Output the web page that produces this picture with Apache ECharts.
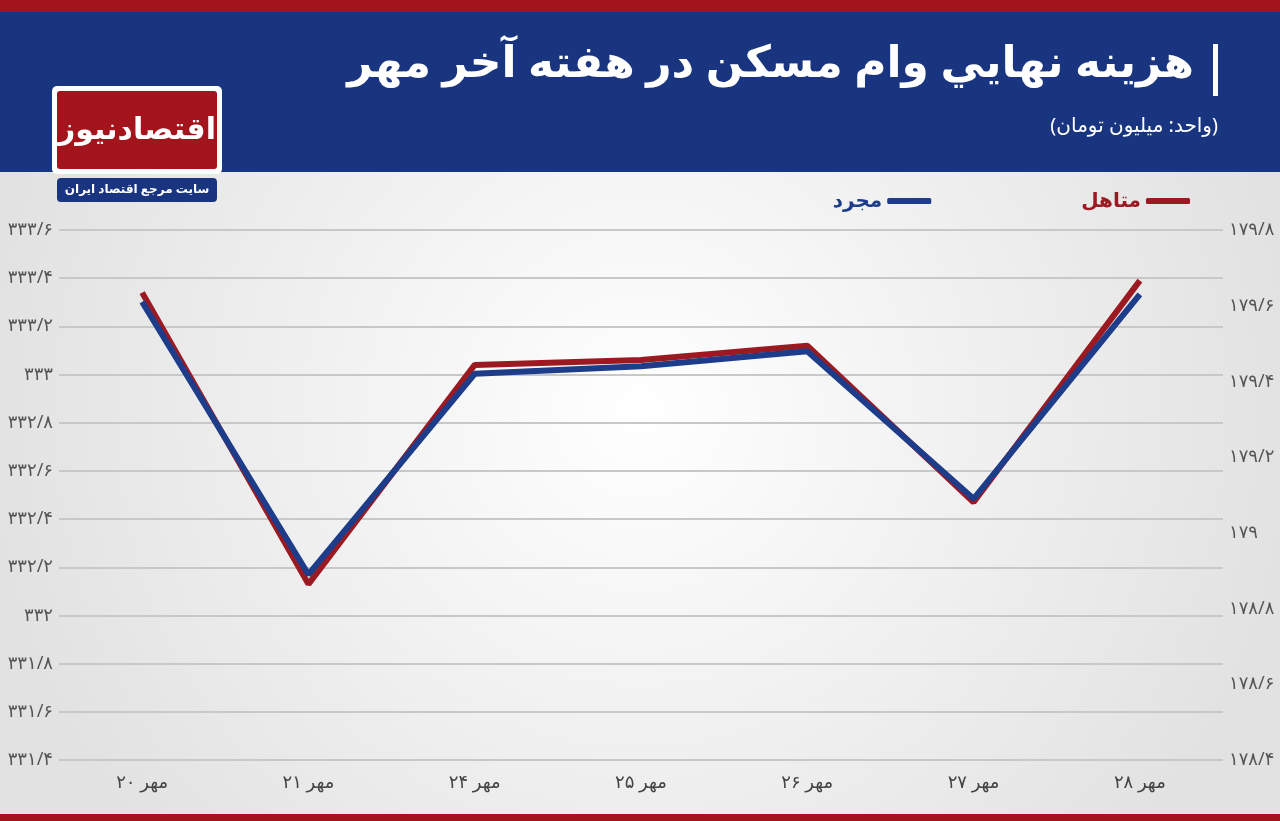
<!DOCTYPE html>
<html><head><meta charset="utf-8">
<script src="https://cdn.jsdelivr.net/npm/echarts@6/dist/echarts.min.js"></script>
<style>html,body{margin:0;padding:0}#c{width:1280px;height:821px}</style>
</head><body><div id="c"></div>
<script>
const categories = ['۲۰ مهر','۲۱ مهر','۲۴ مهر','۲۵ مهر','۲۶ مهر','۲۷ مهر','۲۸ مهر'];
const married = [333.34, 332.13, 333.04, 333.06, 333.12, 332.47, 333.39];
const single = [179.61, 178.89, 179.42, 179.44, 179.48, 179.09, 179.63];
const fa = v => v.toFixed(1).replace('.0','').replace(/\d/g, d => '۰۱۲۳۴۵۶۷۸۹'[d]).replace('.', '/');
const red = '#9b1a22', blue = '#1d3c8a';
const font = '"Noto Sans", "DejaVu Sans", sans-serif';
const chart = echarts.init(document.getElementById('c'));
chart.setOption({
  backgroundColor: {type:'radial', x:0.5, y:0.5, r:0.8, colorStops:[{offset:0,color:'#ffffff'},{offset:1,color:'#e2e2e2'}]},
  graphic: [
    {type:'rect', shape:{x:0,y:0,width:1280,height:12}, style:{fill:'#a3141c'}},
    {type:'rect', shape:{x:0,y:12,width:1280,height:160}, style:{fill:'#1a3580'}},
    {type:'rect', shape:{x:0,y:814,width:1280,height:7}, style:{fill:'#a3141c'}},
    {type:'text', right:86, top:42, style:{text:'هزينه نهايي وام مسکن در هفته آخر مهر', fill:'#fff', font:'bold 44px '+font}},
    {type:'rect', shape:{x:1213,y:44,width:5,height:52}, style:{fill:'#fff'}},
    {type:'text', right:62, top:116, style:{text:'(واحد: میلیون تومان)', fill:'#fff', font:'20px '+font}},
    {type:'rect', shape:{x:52,y:86,width:170,height:88,r:5}, style:{fill:'#fff'}},
    {type:'rect', shape:{x:57,y:91,width:160,height:78,r:3}, style:{fill:'#a3141c'}},
    {type:'text', x:137, y:130, style:{text:'اقتصادنیوز', fill:'#fff', font:'bold 30px '+font, align:'center', verticalAlign:'middle'}},
    {type:'rect', shape:{x:57,y:178,width:160,height:24,r:4}, style:{fill:'#1a3580'}},
    {type:'text', x:137, y:190, style:{text:'سایت مرجع اقتصاد ایران', fill:'#fff', font:'bold 12px '+font, align:'center', verticalAlign:'middle'}}
  ],
  legend: {right:85, top:186, align:'right', itemGap:150, itemWidth:44, itemHeight:6, icon:'roundRect',
    data:[{name:'مجرد', textStyle:{color:blue}},{name:'متاهل', textStyle:{color:red}}],
    textStyle:{fontSize:20, fontWeight:'bold', fontFamily:font}},
  grid: {left:59, right:57, top:230, bottom:61},
  xAxis: {type:'category', data:categories, axisLine:{show:false}, axisTick:{show:false},
    axisLabel:{fontSize:18, color:'#444', margin:14, fontFamily:font}},
  yAxis: [
    {type:'value', min:331.4, max:333.6, interval:0.2, position:'left',
      axisLabel:{formatter:fa, fontSize:18, color:'#555', margin:6, fontFamily:font},
      splitLine:{lineStyle:{color:'#c8c8c8', width:2}}},
    {type:'value', min:178.4, max:179.8, interval:0.2, position:'right',
      axisLabel:{formatter:fa, fontSize:18, color:'#555', margin:6, fontFamily:font}, splitLine:{show:false}}
  ],
  series: [
    {name:'متاهل', type:'line', yAxisIndex:0, data:married, symbol:'none', lineStyle:{width:6,color:red}, itemStyle:{color:red}},
    {name:'مجرد', type:'line', yAxisIndex:1, data:single, symbol:'none', lineStyle:{width:6,color:blue}, itemStyle:{color:blue}}
  ]
});
</script></body></html>
